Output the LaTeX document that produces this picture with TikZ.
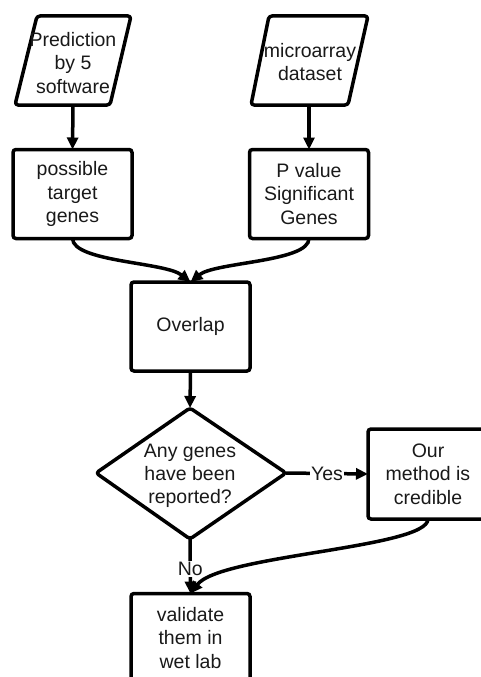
\documentclass[tikz,border=0pt]{standalone}
\usepackage{fontspec}
\setmainfont{Liberation Sans}
\usetikzlibrary{arrows.meta}
\begin{document}
\begin{tikzpicture}[x=1pt,y=-1pt,
  txt/.style={align=center,font=\fontsize{19.5}{23.3}\selectfont,text=black!90,inner sep=0pt},
  boxn/.style={txt,draw,line width=3.5pt,rounded corners=3pt,minimum width=119pt,minimum height=89pt,outer sep=0pt},
  shp/.style={draw,line width=3.5pt,rounded corners=3pt,line join=round},
  conn/.style={line width=3.5pt,-{Triangle[length=12pt,width=11pt]}},
  lbl/.style={txt,fill=white,inner sep=1pt}]
\useasboundingbox (0,0) rectangle (481,677);
\clip (0,0) rectangle (481,677);
% input parallelograms
\draw[shp] (37,16) -- (131,16) -- (110,105) -- (15,105) -- cycle;
\node[txt] (p1) at (73,63) {Prediction\\by 5\\software};
\coordinate (p1b) at (73,105);
\draw[shp] (269,16) -- (368,16) -- (348,105) -- (251,105) -- cycle;
\node[txt] (p2) at (310,62) {microarray\\dataset};
\coordinate (p2b) at (309,105);
% boxes
\node[boxn] (b1) at (72.5,194) {possible\\target\\genes};
\node[boxn] (b2) at (309,194) {P value\\Significant\\Genes};
\node[boxn] (ov) at (190.5,326.5) {Overlap};
% diamond
\coordinate (dt) at (190,408);
\coordinate (dl) at (96,473);
\coordinate (dr) at (286,473);
\coordinate (db) at (190,539);
\draw[shp] (dt) -- (dr) -- (db) -- (dl) -- cycle;
\node[txt] (dq) at (190,476) {Any genes\\have been\\reported?};
\node[boxn,minimum width=120pt,minimum height=90pt] (our) at (428,474) {Our\\method is\\credible};
\node[boxn] (val) at (190.5,638) {validate\\them in\\wet lab};
% connectors
\draw[conn] (p1b) -- (b1.north);
\draw[conn] (p2b) -- (b2.north);
\draw[conn] (b1.south) .. controls (73,262) and (165,262) .. (ov.north);
\draw[conn] (b2.south) .. controls (309,262) and (215,262) .. (ov.north);
\draw[conn] (ov.south) -- (dt);
\draw[conn] (dr) -- node[lbl]{Yes} (our.west);
\draw[conn] (db) -- node[lbl,pos=0.55]{No} (val.north);
\draw[conn] (our.south) .. controls (428,548) and (220,555) .. (val.north);
\end{tikzpicture}
\end{document}
